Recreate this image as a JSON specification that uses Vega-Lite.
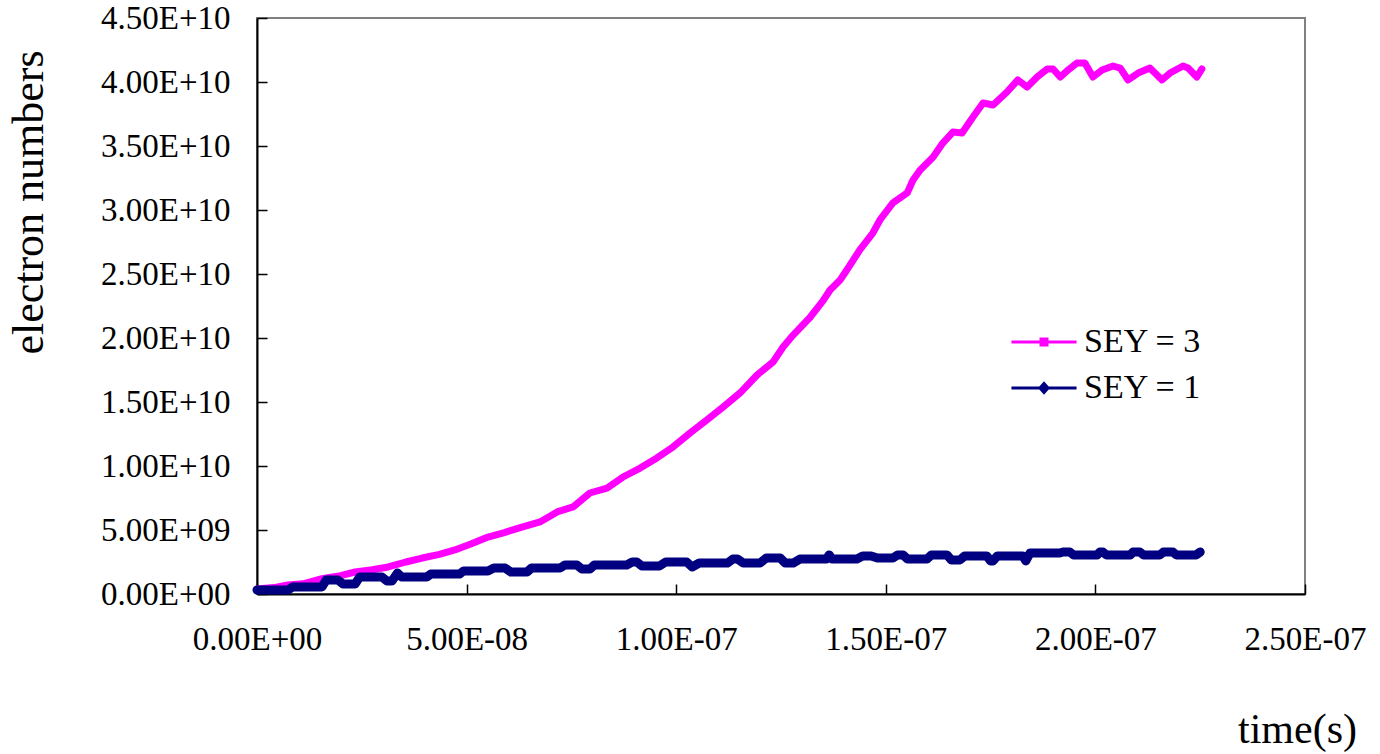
{
  "$schema": "https://vega.github.io/schema/vega-lite/v6.json",
  "width": 1048,
  "height": 576,
  "autosize": "none",
  "padding": {"left": 257, "top": 18, "right": 75, "bottom": 160},
  "background": "white",
  "config": {
    "font": "Liberation Serif",
    "view": {"stroke": "#808080", "strokeWidth": 2}
  },
  "data": {
    "values": [
      {"s": "SEY = 3", "t": 0, "n": 4.0e8},
      {"s": "SEY = 3", "t": 4.0e-9, "n": 5.0e8},
      {"s": "SEY = 3", "t": 7.4e-9, "n": 7.0e8},
      {"s": "SEY = 3", "t": 1.1e-8, "n": 8.0e8},
      {"s": "SEY = 3", "t": 1.55e-8, "n": 1.2e9},
      {"s": "SEY = 3", "t": 1.95e-8, "n": 1.4e9},
      {"s": "SEY = 3", "t": 2.34e-8, "n": 1.72e9},
      {"s": "SEY = 3", "t": 2.75e-8, "n": 1.9e9},
      {"s": "SEY = 3", "t": 3.13e-8, "n": 2.11e9},
      {"s": "SEY = 3", "t": 3.55e-8, "n": 2.5e9},
      {"s": "SEY = 3", "t": 3.94e-8, "n": 2.81e9},
      {"s": "SEY = 3", "t": 4.35e-8, "n": 3.1e9},
      {"s": "SEY = 3", "t": 4.72e-8, "n": 3.44e9},
      {"s": "SEY = 3", "t": 5.1e-8, "n": 3.9e9},
      {"s": "SEY = 3", "t": 5.51e-8, "n": 4.45e9},
      {"s": "SEY = 3", "t": 5.9e-8, "n": 4.8e9},
      {"s": "SEY = 3", "t": 6.32e-8, "n": 5.23e9},
      {"s": "SEY = 3", "t": 6.75e-8, "n": 5.63e9},
      {"s": "SEY = 3", "t": 7.16e-8, "n": 6.41e9},
      {"s": "SEY = 3", "t": 7.54e-8, "n": 6.8e9},
      {"s": "SEY = 3", "t": 7.94e-8, "n": 7.89e9},
      {"s": "SEY = 3", "t": 8.35e-8, "n": 8.28e9},
      {"s": "SEY = 3", "t": 8.73e-8, "n": 9.14e9},
      {"s": "SEY = 3", "t": 9.14e-8, "n": 9.84e9},
      {"s": "SEY = 3", "t": 9.54e-8, "n": 1.063e10},
      {"s": "SEY = 3", "t": 9.92e-8, "n": 1.148e10},
      {"s": "SEY = 3", "t": 1.033e-7, "n": 1.258e10},
      {"s": "SEY = 3", "t": 1.073e-7, "n": 1.359e10},
      {"s": "SEY = 3", "t": 1.112e-7, "n": 1.461e10},
      {"s": "SEY = 3", "t": 1.152e-7, "n": 1.57e10},
      {"s": "SEY = 3", "t": 1.193e-7, "n": 1.711e10},
      {"s": "SEY = 3", "t": 1.231e-7, "n": 1.813e10},
      {"s": "SEY = 3", "t": 1.255e-7, "n": 1.93e10},
      {"s": "SEY = 3", "t": 1.279e-7, "n": 2.023e10},
      {"s": "SEY = 3", "t": 1.319e-7, "n": 2.16e10},
      {"s": "SEY = 3", "t": 1.35e-7, "n": 2.29e10},
      {"s": "SEY = 3", "t": 1.367e-7, "n": 2.375e10},
      {"s": "SEY = 3", "t": 1.391e-7, "n": 2.453e10},
      {"s": "SEY = 3", "t": 1.407e-7, "n": 2.531e10},
      {"s": "SEY = 3", "t": 1.438e-7, "n": 2.688e10},
      {"s": "SEY = 3", "t": 1.469e-7, "n": 2.82e10},
      {"s": "SEY = 3", "t": 1.486e-7, "n": 2.922e10},
      {"s": "SEY = 3", "t": 1.517e-7, "n": 3.055e10},
      {"s": "SEY = 3", "t": 1.551e-7, "n": 3.133e10},
      {"s": "SEY = 3", "t": 1.565e-7, "n": 3.234e10},
      {"s": "SEY = 3", "t": 1.582e-7, "n": 3.313e10},
      {"s": "SEY = 3", "t": 1.613e-7, "n": 3.414e10},
      {"s": "SEY = 3", "t": 1.636e-7, "n": 3.523e10},
      {"s": "SEY = 3", "t": 1.66e-7, "n": 3.609e10},
      {"s": "SEY = 3", "t": 1.682e-7, "n": 3.602e10},
      {"s": "SEY = 3", "t": 1.708e-7, "n": 3.727e10},
      {"s": "SEY = 3", "t": 1.732e-7, "n": 3.836e10},
      {"s": "SEY = 3", "t": 1.756e-7, "n": 3.82e10},
      {"s": "SEY = 3", "t": 1.789e-7, "n": 3.922e10},
      {"s": "SEY = 3", "t": 1.815e-7, "n": 4.016e10},
      {"s": "SEY = 3", "t": 1.837e-7, "n": 3.961e10},
      {"s": "SEY = 3", "t": 1.861e-7, "n": 4.039e10},
      {"s": "SEY = 3", "t": 1.885e-7, "n": 4.102e10},
      {"s": "SEY = 3", "t": 1.899e-7, "n": 4.102e10},
      {"s": "SEY = 3", "t": 1.916e-7, "n": 4.039e10},
      {"s": "SEY = 3", "t": 1.935e-7, "n": 4.094e10},
      {"s": "SEY = 3", "t": 1.956e-7, "n": 4.148e10},
      {"s": "SEY = 3", "t": 1.975e-7, "n": 4.148e10},
      {"s": "SEY = 3", "t": 1.994e-7, "n": 4.039e10},
      {"s": "SEY = 3", "t": 2.016e-7, "n": 4.094e10},
      {"s": "SEY = 3", "t": 2.042e-7, "n": 4.125e10},
      {"s": "SEY = 3", "t": 2.059e-7, "n": 4.109e10},
      {"s": "SEY = 3", "t": 2.078e-7, "n": 4.016e10},
      {"s": "SEY = 3", "t": 2.102e-7, "n": 4.07e10},
      {"s": "SEY = 3", "t": 2.13e-7, "n": 4.109e10},
      {"s": "SEY = 3", "t": 2.159e-7, "n": 4.016e10},
      {"s": "SEY = 3", "t": 2.178e-7, "n": 4.07e10},
      {"s": "SEY = 3", "t": 2.209e-7, "n": 4.125e10},
      {"s": "SEY = 3", "t": 2.221e-7, "n": 4.109e10},
      {"s": "SEY = 3", "t": 2.242e-7, "n": 4.039e10},
      {"s": "SEY = 3", "t": 2.254e-7, "n": 4.102e10},

      {"s": "SEY = 1", "t": 0, "n": 3.1e8},
      {"s": "SEY = 1", "t": 7.4e-9, "n": 3.1e8},
      {"s": "SEY = 1", "t": 8.5e-9, "n": 5.5e8},
      {"s": "SEY = 1", "t": 1.55e-8, "n": 5.5e8},
      {"s": "SEY = 1", "t": 1.65e-8, "n": 1.09e9},
      {"s": "SEY = 1", "t": 1.93e-8, "n": 1.09e9},
      {"s": "SEY = 1", "t": 2.05e-8, "n": 7.8e8},
      {"s": "SEY = 1", "t": 2.34e-8, "n": 7.8e8},
      {"s": "SEY = 1", "t": 2.45e-8, "n": 1.33e9},
      {"s": "SEY = 1", "t": 2.98e-8, "n": 1.33e9},
      {"s": "SEY = 1", "t": 3.1e-8, "n": 1.02e9},
      {"s": "SEY = 1", "t": 3.22e-8, "n": 1.02e9},
      {"s": "SEY = 1", "t": 3.35e-8, "n": 1.64e9},
      {"s": "SEY = 1", "t": 3.45e-8, "n": 1.33e9},
      {"s": "SEY = 1", "t": 4.05e-8, "n": 1.33e9},
      {"s": "SEY = 1", "t": 4.15e-8, "n": 1.56e9},
      {"s": "SEY = 1", "t": 4.83e-8, "n": 1.56e9},
      {"s": "SEY = 1", "t": 4.93e-8, "n": 1.8e9},
      {"s": "SEY = 1", "t": 5.51e-8, "n": 1.8e9},
      {"s": "SEY = 1", "t": 5.65e-8, "n": 2.03e9},
      {"s": "SEY = 1", "t": 5.92e-8, "n": 2.03e9},
      {"s": "SEY = 1", "t": 6.05e-8, "n": 1.72e9},
      {"s": "SEY = 1", "t": 6.44e-8, "n": 1.72e9},
      {"s": "SEY = 1", "t": 6.55e-8, "n": 2.03e9},
      {"s": "SEY = 1", "t": 7.23e-8, "n": 2.03e9},
      {"s": "SEY = 1", "t": 7.35e-8, "n": 2.27e9},
      {"s": "SEY = 1", "t": 7.63e-8, "n": 2.27e9},
      {"s": "SEY = 1", "t": 7.75e-8, "n": 1.95e9},
      {"s": "SEY = 1", "t": 7.94e-8, "n": 1.95e9},
      {"s": "SEY = 1", "t": 8.05e-8, "n": 2.27e9},
      {"s": "SEY = 1", "t": 8.82e-8, "n": 2.27e9},
      {"s": "SEY = 1", "t": 8.95e-8, "n": 2.5e9},
      {"s": "SEY = 1", "t": 9.06e-8, "n": 2.5e9},
      {"s": "SEY = 1", "t": 9.18e-8, "n": 2.19e9},
      {"s": "SEY = 1", "t": 9.6e-8, "n": 2.19e9},
      {"s": "SEY = 1", "t": 9.75e-8, "n": 2.5e9},
      {"s": "SEY = 1", "t": 1.025e-7, "n": 2.5e9},
      {"s": "SEY = 1", "t": 1.038e-7, "n": 2.11e9},
      {"s": "SEY = 1", "t": 1.055e-7, "n": 2.42e9},
      {"s": "SEY = 1", "t": 1.122e-7, "n": 2.42e9},
      {"s": "SEY = 1", "t": 1.135e-7, "n": 2.73e9},
      {"s": "SEY = 1", "t": 1.146e-7, "n": 2.73e9},
      {"s": "SEY = 1", "t": 1.16e-7, "n": 2.42e9},
      {"s": "SEY = 1", "t": 1.2e-7, "n": 2.42e9},
      {"s": "SEY = 1", "t": 1.215e-7, "n": 2.81e9},
      {"s": "SEY = 1", "t": 1.248e-7, "n": 2.81e9},
      {"s": "SEY = 1", "t": 1.26e-7, "n": 2.42e9},
      {"s": "SEY = 1", "t": 1.279e-7, "n": 2.42e9},
      {"s": "SEY = 1", "t": 1.295e-7, "n": 2.73e9},
      {"s": "SEY = 1", "t": 1.358e-7, "n": 2.73e9},
      {"s": "SEY = 1", "t": 1.365e-7, "n": 3.05e9},
      {"s": "SEY = 1", "t": 1.372e-7, "n": 2.73e9},
      {"s": "SEY = 1", "t": 1.431e-7, "n": 2.73e9},
      {"s": "SEY = 1", "t": 1.445e-7, "n": 2.97e9},
      {"s": "SEY = 1", "t": 1.465e-7, "n": 2.97e9},
      {"s": "SEY = 1", "t": 1.48e-7, "n": 2.81e9},
      {"s": "SEY = 1", "t": 1.517e-7, "n": 2.81e9},
      {"s": "SEY = 1", "t": 1.528e-7, "n": 3.05e9},
      {"s": "SEY = 1", "t": 1.541e-7, "n": 3.05e9},
      {"s": "SEY = 1", "t": 1.552e-7, "n": 2.73e9},
      {"s": "SEY = 1", "t": 1.598e-7, "n": 2.73e9},
      {"s": "SEY = 1", "t": 1.609e-7, "n": 3.05e9},
      {"s": "SEY = 1", "t": 1.646e-7, "n": 3.05e9},
      {"s": "SEY = 1", "t": 1.656e-7, "n": 2.66e9},
      {"s": "SEY = 1", "t": 1.677e-7, "n": 2.66e9},
      {"s": "SEY = 1", "t": 1.688e-7, "n": 2.97e9},
      {"s": "SEY = 1", "t": 1.741e-7, "n": 2.97e9},
      {"s": "SEY = 1", "t": 1.75e-7, "n": 2.58e9},
      {"s": "SEY = 1", "t": 1.756e-7, "n": 2.58e9},
      {"s": "SEY = 1", "t": 1.766e-7, "n": 2.97e9},
      {"s": "SEY = 1", "t": 1.827e-7, "n": 2.97e9},
      {"s": "SEY = 1", "t": 1.834e-7, "n": 2.58e9},
      {"s": "SEY = 1", "t": 1.844e-7, "n": 3.2e9},
      {"s": "SEY = 1", "t": 1.915e-7, "n": 3.2e9},
      {"s": "SEY = 1", "t": 1.923e-7, "n": 3.28e9},
      {"s": "SEY = 1", "t": 1.939e-7, "n": 3.28e9},
      {"s": "SEY = 1", "t": 1.948e-7, "n": 3.05e9},
      {"s": "SEY = 1", "t": 2.004e-7, "n": 3.05e9},
      {"s": "SEY = 1", "t": 2.011e-7, "n": 3.28e9},
      {"s": "SEY = 1", "t": 2.018e-7, "n": 3.28e9},
      {"s": "SEY = 1", "t": 2.026e-7, "n": 3.05e9},
      {"s": "SEY = 1", "t": 2.083e-7, "n": 3.05e9},
      {"s": "SEY = 1", "t": 2.09e-7, "n": 3.28e9},
      {"s": "SEY = 1", "t": 2.106e-7, "n": 3.28e9},
      {"s": "SEY = 1", "t": 2.115e-7, "n": 3.05e9},
      {"s": "SEY = 1", "t": 2.154e-7, "n": 3.05e9},
      {"s": "SEY = 1", "t": 2.162e-7, "n": 3.28e9},
      {"s": "SEY = 1", "t": 2.185e-7, "n": 3.28e9},
      {"s": "SEY = 1", "t": 2.193e-7, "n": 3.05e9},
      {"s": "SEY = 1", "t": 2.24e-7, "n": 3.05e9},
      {"s": "SEY = 1", "t": 2.25e-7, "n": 3.28e9}
    ]
  },
  "encoding": {
    "x": {
      "field": "t",
      "type": "quantitative",
      "scale": {"domain": [0, 2.5e-7], "nice": false, "zero": false},
      "axis": {
        "title": "time(s)",
        "values": [0, 5e-8, 1e-7, 1.5e-7, 2e-7, 2.5e-7],
        "labelExpr": "split(format(datum.value, '.2e'), 'e')[0] + 'E' + substring(split(format(datum.value, '.2e'), 'e')[1], 0, 1) + (length(split(format(datum.value, '.2e'), 'e')[1]) < 3 ? '0' : '') + substring(split(format(datum.value, '.2e'), 'e')[1], 1)",
        "labelFont": "Liberation Serif",
        "labelFontSize": 33,
        "labelColor": "black",
        "labelPadding": 39,
        "labelFlush": false,
        "labelOverlap": false,
        "labelBound": false,
        "tickSize": -10,
        "tickColor": "black",
        "tickWidth": 1.5,
        "domainColor": "black",
        "domainWidth": 2,
        "grid": false,
        "titleFont": "Liberation Serif",
        "titleFontSize": 42,
        "titleFontWeight": "normal",
        "titleColor": "black",
        "titleX": 1040,
        "titleY": 148,
        "titleAlign": "center",
        "titleBaseline": "alphabetic"
      }
    },
    "y": {
      "field": "n",
      "type": "quantitative",
      "scale": {"domain": [0, 4.5e10], "nice": false, "zero": true},
      "axis": {
        "title": "electron numbers",
        "values": [0, 5e9, 1e10, 1.5e10, 2e10, 2.5e10, 3e10, 3.5e10, 4e10, 4.5e10],
        "labelExpr": "split(format(datum.value, '.2e'), 'e')[0] + 'E' + substring(split(format(datum.value, '.2e'), 'e')[1], 0, 1) + (length(split(format(datum.value, '.2e'), 'e')[1]) < 3 ? '0' : '') + substring(split(format(datum.value, '.2e'), 'e')[1], 1)",
        "labelFont": "Liberation Serif",
        "labelFontSize": 33,
        "labelColor": "black",
        "labelPadding": 37,
        "labelFlush": false,
        "labelOverlap": false,
        "labelBound": false,
        "tickSize": -10,
        "tickColor": "black",
        "tickWidth": 1.5,
        "domainColor": "black",
        "domainWidth": 2,
        "grid": false,
        "titleFont": "Liberation Serif",
        "titleFontSize": 44,
        "titleFontWeight": "normal",
        "titleColor": "black",
        "titleAngle": -90,
        "titleX": -215,
        "titleY": 184,
        "titleAlign": "center",
        "titleBaseline": "alphabetic"
      }
    },
    "color": {
      "field": "s",
      "type": "nominal",
      "sort": ["SEY = 3", "SEY = 1"],
      "scale": {"domain": ["SEY = 3", "SEY = 1"], "range": ["#FF00FF", "#000080"]},
      "legend": {
        "title": null,
        "orient": "none",
        "legendX": 770,
        "legendY": 307,
        "padding": 0,
        "symbolSize": 900,
        "symbolStrokeWidth": 3,
        "labelFont": "Liberation Serif",
        "labelFontSize": 34,
        "labelColor": "black",
        "labelOffset": 23,
        "rowPadding": 12,
        "encoding": {
          "symbols": {
            "shape": {"value": {"expr": "datum.value == 'SEY = 3' ? 'M-2.17,0H2.17M-0.2,-0.2H0.2V0.2H-0.2Z' : 'M-2.17,0H2.17M0,-0.3L0.27,0L0,0.3L-0.27,0Z'"}},
            "fill": {"value": {"expr": "scale('color', datum.value)"}},
            "stroke": {"value": {"expr": "scale('color', datum.value)"}},
            "strokeWidth": {"value": 3}
          }
        }
      }
    }
  },
  "layer": [
    {
      "transform": [{"filter": "datum.s == 'SEY = 3'"}],
      "mark": {"type": "line", "strokeWidth": 7, "strokeJoin": "round", "strokeCap": "round"}
    },
    {
      "transform": [{"filter": "datum.s == 'SEY = 1'"}],
      "mark": {"type": "line", "strokeWidth": 9, "strokeJoin": "round", "strokeCap": "round"}
    }
  ]
}
